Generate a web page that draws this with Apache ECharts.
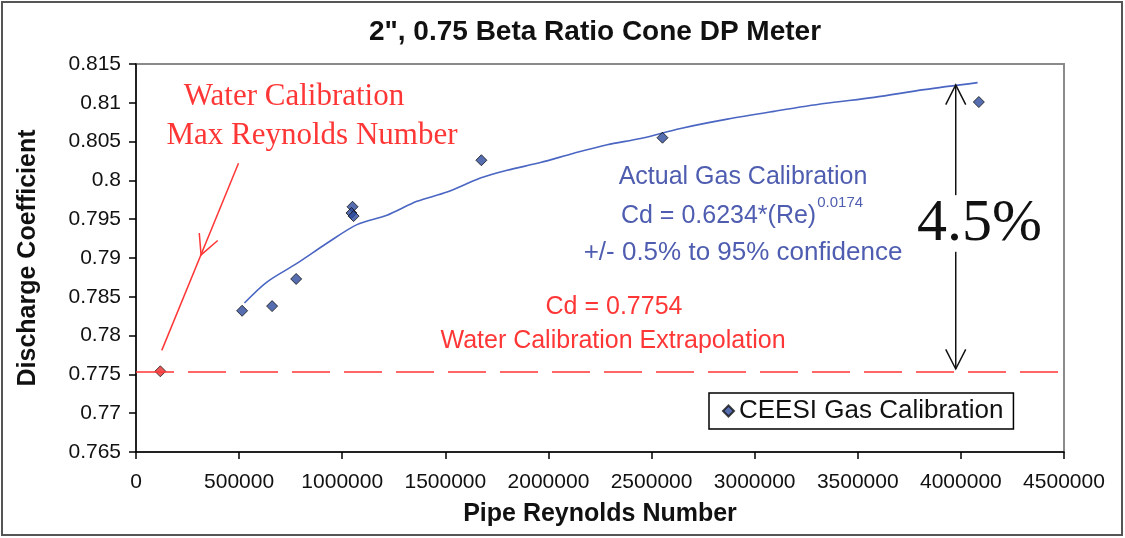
<!DOCTYPE html>
<html>
<head>
<meta charset="utf-8">
<script src="https://cdn.jsdelivr.net/npm/echarts@6/dist/echarts.min.js"></script>
<style>
  html, body { margin: 0; padding: 0; background: #fff; }
  #chart { width: 1125px; height: 538px; }
</style>
</head>
<body>
<div id="chart"></div>
<script>
// ---- Data ----
const titleText = '2", 0.75 Beta Ratio Cone DP Meter';
const xAxisName = 'Pipe Reynolds Number';
const yAxisName = 'Discharge Coefficient';
const gasSeriesName = 'CEESI Gas Calibration';

const xMin = 0, xMax = 4500000, xStep = 500000;
const yMin = 0.765, yMax = 0.815, yStep = 0.005;

// CEESI gas calibration points
const gasRe = [514600, 660000, 776700, 1050000, 1045000, 1055000, 1674800, 2553000, 4087000];
const gasCd = [0.7832, 0.7838, 0.7873, 0.7966, 0.7958, 0.7954, 0.8026, 0.8055, 0.8101];

// Water calibration max Reynolds number point and extrapolated Cd
const waterRe = [118000];
const waterCd = [0.7754];
const waterExtrapCd = 0.7754;

// Fitted gas calibration curve (points read along the drawn trendline)
const curveRe = [525700, 634500, 780100, 925700, 1071400, 1217000, 1362600, 1508300, 1669900, 1799500,
                 1961200, 2122900, 2285000, 2446600, 2640800, 2867500, 3093700, 3336400, 3579100, 3821800, 4081100];
const curveCd = [0.7842, 0.7869, 0.7893, 0.7919, 0.7943, 0.7955, 0.7973, 0.7985, 0.8003, 0.8013,
                 0.8023, 0.8035, 0.8046, 0.8054, 0.8067, 0.8079, 0.8089, 0.8099, 0.8107, 0.8117, 0.8126];

// Annotation arrows: [fromRe, fromCd, toRe, toCd, headRe, headCd]
const blackArrows = [
  [3975000, 0.7981, 3975000, 0.8123, 3975000, 0.8123],
  [3975000, 0.7908, 3975000, 0.7757, 3975000, 0.7757]
];
const redArrows = [
  [497000, 0.8022, 125000, 0.7781, 315500, 0.7904]
];

// ---- Chart ----
const RED = '#ff3636';
const BLUE_TXT = '#4f5db0';
const SANS = '"Liberation Sans", Arial, sans-serif';
const SERIF = '"Liberation Serif", "Times New Roman", serif';

function arrowRender(color) {
  return function (params, api) {
    const p1 = api.coord([api.value(0), api.value(1)]);
    const p2 = api.coord([api.value(2), api.value(3)]);
    const tip = api.coord([api.value(4), api.value(5)]);
    let dx = p2[0] - p1[0], dy = p2[1] - p1[1];
    const len = Math.hypot(dx, dy); dx /= len; dy /= len;
    const L = 22, a = 27 * Math.PI / 180;
    const rot = (x, y, t) => [x * Math.cos(t) - y * Math.sin(t), x * Math.sin(t) + y * Math.cos(t)];
    const r1 = rot(dx, dy, a), r2 = rot(dx, dy, -a);
    return {
      type: 'group',
      children: [
        { type: 'line', shape: { x1: p1[0], y1: p1[1], x2: p2[0], y2: p2[1] },
          style: { stroke: color, lineWidth: 1.5 } },
        { type: 'polyline',
          shape: { points: [[tip[0] - L * r1[0], tip[1] - L * r1[1]], tip, [tip[0] - L * r2[0], tip[1] - L * r2[1]]] },
          style: { stroke: color, fill: null, lineWidth: 1.5 } }
      ]
    };
  };
}

const chart = echarts.init(document.getElementById('chart'), null, { renderer: 'canvas' });

const option = {
  backgroundColor: '#fff',
  animation: false,
  title: {
    text: titleText,
    left: 590, textAlign: 'center', top: 13,
    textStyle: { fontFamily: SANS, fontWeight: 'bold', fontSize: 28, color: '#111' }
  },
  legend: {
    data: [gasSeriesName],
    left: 709, top: 393,
    orient: 'horizontal',
    icon: 'diamond', itemWidth: 11, itemHeight: 11, itemGap: 8,
    borderColor: '#000', borderWidth: 1.5, borderRadius: 0,
    padding: [5, 10, 5, 13],
    backgroundColor: '#fff',
    textStyle: { fontFamily: SANS, fontSize: 26, color: '#111' }
  },
  grid: {
    left: 136, right: 61, top: 64, bottom: 86,
    show: true, borderColor: '#8a8a8a', borderWidth: 2, backgroundColor: 'transparent'
  },
  xAxis: {
    type: 'value', min: xMin, max: xMax, interval: xStep,
    name: xAxisName, nameLocation: 'middle', nameGap: 50,
    nameTextStyle: { fontFamily: SANS, fontWeight: 'bold', fontSize: 25, color: '#111' },
    axisLine: { show: true, onZero: false, lineStyle: { color: '#000', width: 1.5 } },
    axisTick: { show: true, inside: false, length: 7, lineStyle: { color: '#000', width: 1.5 } },
    axisLabel: { fontFamily: SANS, fontSize: 21, color: '#111', margin: 20, formatter: v => String(v) },
    splitLine: { show: false }
  },
  yAxis: {
    type: 'value', min: yMin, max: yMax, interval: yStep,
    name: yAxisName, nameLocation: 'middle', nameGap: 95,
    nameTextStyle: { fontFamily: SANS, fontWeight: 'bold', fontSize: 25, color: '#111' },
    axisLine: { show: true, onZero: false, lineStyle: { color: '#000', width: 1.5 } },
    axisTick: { show: true, inside: false, length: 7, lineStyle: { color: '#000', width: 1.5 } },
    axisLabel: { fontFamily: SANS, fontSize: 21, color: '#111', margin: 15,
                 formatter: v => String(+(+v).toFixed(3)) },
    splitLine: { show: false }
  },
  series: [
    {
      name: 'Gas Calibration Fit',
      type: 'line',
      data: curveRe.map((x, i) => [x, curveCd[i]]),
      showSymbol: false, symbol: 'none', smooth: 0.3,
      lineStyle: { color: '#4a66c2', width: 1.6 },
      z: 2, silent: true
    },
    {
      name: 'Water Calibration',
      type: 'scatter',
      data: waterRe.map((x, i) => [x, waterCd[i]]),
      symbol: 'diamond', symbolSize: 11,
      itemStyle: { color: '#e52a2a', borderColor: '#222', borderWidth: 1 },
      z: 4,
      markLine: {
        silent: true, symbol: ['none', 'none'], precision: 6,
        label: { show: false },
        lineStyle: { color: RED, type: [38, 14], width: 1.6 },
        data: [{ yAxis: waterExtrapCd }]
      }
    },
    {
      name: gasSeriesName,
      type: 'scatter',
      data: gasRe.map((x, i) => [x, gasCd[i]]),
      symbol: 'diamond', symbolSize: 11,
      itemStyle: { color: '#2c4a9c', borderColor: '#111', borderWidth: 1 },
      z: 5
    },
    {
      name: 'arrows-black', type: 'custom', silent: true,
      renderItem: arrowRender('#111'),
      data: blackArrows, z: 3
    },
    {
      name: 'arrows-red', type: 'custom', silent: true,
      renderItem: arrowRender(RED),
      data: redArrows, z: 3
    }
  ],
  graphic: [
    { type: 'rect', shape: { x: 2, y: 2, width: 1120, height: 533 },
      style: { stroke: '#555', fill: null, lineWidth: 2 }, z: 100, silent: true },
    { type: 'text', x: 294, y: 97, style: { text: 'Water Calibration', font: '31px ' + SERIF, fill: RED,
      textAlign: 'center', textVerticalAlign: 'middle' }, z: 50 },
    { type: 'text', x: 312, y: 136, style: { text: 'Max Reynolds Number', font: '31px ' + SERIF, fill: RED,
      textAlign: 'center', textVerticalAlign: 'middle' }, z: 50 },
    { type: 'text', x: 917, y: 224, style: { text: '4.5%', font: '60px ' + SERIF, fill: '#111',
      textAlign: 'left', textVerticalAlign: 'middle' }, z: 50 },
    { type: 'text', x: 743, y: 177, style: { text: 'Actual Gas Calibration', font: '25px ' + SANS, fill: BLUE_TXT,
      textAlign: 'center', textVerticalAlign: 'middle' }, z: 50 },
    { type: 'text', x: 742, y: 212, style: {
      text: '{a|Cd = 0.6234*(Re)}{s|0.0174}',
      textAlign: 'center', textVerticalAlign: 'middle',
      rich: {
        a: { fontFamily: SANS, fontSize: 25, fill: BLUE_TXT, verticalAlign: 'bottom', lineHeight: 34 },
        s: { fontFamily: SANS, fontSize: 15, fill: BLUE_TXT, verticalAlign: 'top', lineHeight: 34, padding: [0, 0, 0, 1] }
      } }, z: 50 },
    { type: 'text', x: 743, y: 253, style: { text: '+/- 0.5% to 95% confidence', font: '26px ' + SANS, fill: BLUE_TXT,
      textAlign: 'center', textVerticalAlign: 'middle' }, z: 50 },
    { type: 'text', x: 614, y: 307, style: { text: 'Cd = 0.7754', font: '25px ' + SANS, fill: RED,
      textAlign: 'center', textVerticalAlign: 'middle' }, z: 50 },
    { type: 'text', x: 613, y: 341, style: { text: 'Water Calibration Extrapolation', font: '25px ' + SANS, fill: RED,
      textAlign: 'center', textVerticalAlign: 'middle' }, z: 50 }
  ]
};

chart.setOption(option);
</script>
</body>
</html>
